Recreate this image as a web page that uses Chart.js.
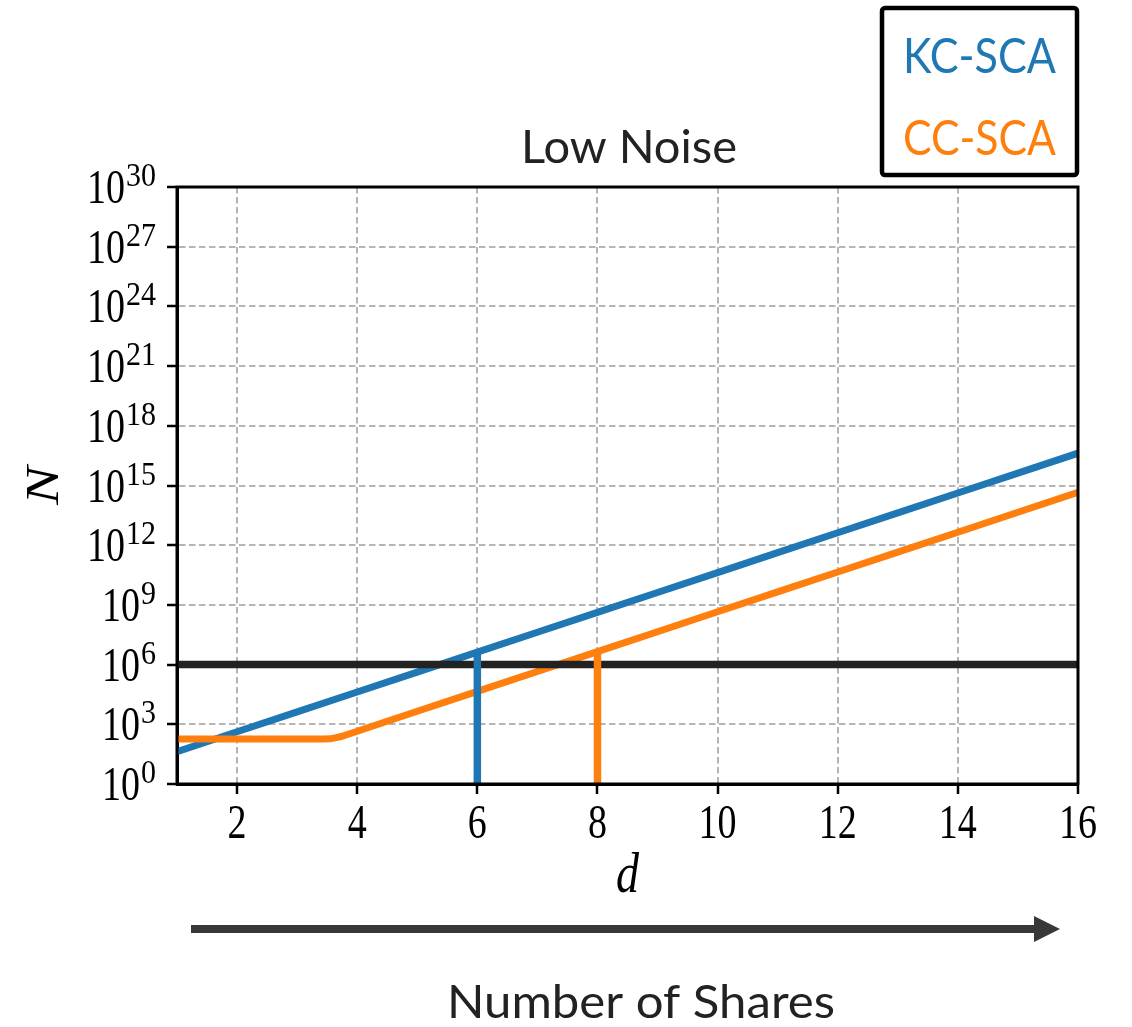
<!DOCTYPE html>
<html>
<head>
<meta charset="utf-8">
<script src="https://cdn.jsdelivr.net/npm/chart.js@4.4.1/dist/chart.umd.min.js"></script>
<style>
  html, body { margin: 0; padding: 0; background: #fff; }
  canvas { display: block; }
</style>
</head>
<body>
<canvas id="c" width="1132" height="1027"></canvas>
<script>
// Number of shares d
const shareCounts = [1, 2, 3, 4, 5, 6, 7, 8, 9, 10, 11, 12, 13, 14, 15, 16];
// Traces N needed by KC-SCA for each share count
const kcScaTraces = [4.2e1, 4.2e2, 4.2e3, 4.2e4, 4.2e5, 4.2e6, 4.2e7, 4.2e8,
                     4.2e9, 4.2e10, 4.2e11, 4.2e12, 4.2e13, 4.2e14, 4.2e15, 4.2e16];
// CC-SCA: flat floor at low d, then the same growth rate
const ccScaShares = [1, 2, 3, 3.43, 3.55, 3.65, 3.75, 3.85, 4, 5, 6, 7, 8,
                     9, 10, 11, 12, 13, 14, 15, 16];
const ccScaTraces = [1.8e2, 1.8e2, 1.8e2, 1.8e2, 1.86e2, 2.14e2, 2.51e2, 3.16e2, 4.5e2, 4.5e3,
                     4.5e4, 4.5e5, 4.5e6, 4.5e7, 4.5e8, 4.5e9, 4.5e10, 4.5e11, 4.5e12,
                     4.5e13, 4.5e14];
// Attacker trace budget
const traceBudget = 1e6;
// Share counts at which each attack stays within the budget
const kcScaRequiredShares = 6;
const ccScaRequiredShares = 8;

const xTickValues = [2, 4, 6, 8, 10, 12, 14, 16];
const yTickValues = [1e0, 1e3, 1e6, 1e9, 1e12, 1e15, 1e18, 1e21, 1e24, 1e27, 1e30];

const chartTitle = 'Low Noise';
const xAxisTitle = 'd';
const yAxisTitle = 'N';
const seriesNames = ['KC-SCA', 'CC-SCA'];
const bottomCaption = 'Number of Shares';

const BLUE = '#1f77b4';
const ORANGE = '#ff7f0e';
const MATH_FONT = '"Liberation Serif", "DejaVu Serif", serif';
const TEXT_FONT = 'Lato, "Open Sans", sans-serif';

const kcAtRequired = kcScaTraces[shareCounts.indexOf(kcScaRequiredShares)];
const ccAtRequired = ccScaTraces[ccScaShares.indexOf(ccScaRequiredShares)];

const toPoints = (xs, ys) => xs.map((x, i) => ({ x, y: ys[i] }));

// Text stretched vertically, used for the math labels
function stretchedText(ctx, text, x, y, font, align, sy, color) {
  ctx.save();
  ctx.translate(x, y);
  ctx.scale(1, sy);
  ctx.font = font;
  ctx.textAlign = align;
  ctx.textBaseline = 'alphabetic';
  ctx.fillStyle = color || '#000';
  ctx.fillText(text, 0, 0);
  ctx.restore();
}

// Text fitted between two x positions with a given cap height
function fittedText(ctx, text, left, right, baseline, capHeight, color) {
  const size = capHeight / 0.7165;
  ctx.save();
  ctx.font = size + 'px ' + TEXT_FONT;
  const w = ctx.measureText(text).width;
  ctx.translate(left, baseline);
  ctx.scale((right - left) / w, 1);
  ctx.textAlign = 'left';
  ctx.textBaseline = 'alphabetic';
  ctx.fillStyle = color;
  ctx.fillText(text, 0, 0);
  ctx.restore();
}

const decorations = {
  id: 'decorations',
  afterDraw(chart) {
    const { ctx, chartArea: a, scales: { x, y } } = chart;

    // Frame around the plot area
    ctx.save();
    ctx.strokeStyle = '#000';
    ctx.lineWidth = 3;
    ctx.strokeRect(a.left, a.top, a.right - a.left, a.bottom - a.top);
    ctx.restore();

    // x tick labels
    x.ticks.forEach(t => {
      stretchedText(ctx, String(t.value), x.getPixelForValue(t.value), 838,
        '38px ' + MATH_FONT, 'center', 1.25);
    });

    // y tick labels as 10^k
    y.ticks.forEach(t => {
      const py = y.getPixelForValue(t.value);
      const exp = String(Math.round(Math.log10(t.value)));
      ctx.font = '30px ' + MATH_FONT;
      const ew = ctx.measureText(exp).width;
      const right = 156;
      stretchedText(ctx, exp, right - ew, py - 1, '30px ' + MATH_FONT, 'left', 1.1);
      stretchedText(ctx, '10', right - ew - 1, py + 16, '38px ' + MATH_FONT, 'right', 1.25);
    });

    // Axis titles
    stretchedText(ctx, xAxisTitle, (a.left + a.right) / 2, 892,
      'italic 46px ' + MATH_FONT, 'center', 1.25);
    ctx.save();
    ctx.translate(58, (a.top + a.bottom) / 2);
    ctx.scale(1, 1.25);
    ctx.rotate(-Math.PI / 2);
    ctx.font = 'italic 46px ' + MATH_FONT;
    ctx.textAlign = 'center';
    ctx.textBaseline = 'alphabetic';
    ctx.fillStyle = '#000';
    ctx.fillText(yAxisTitle, 0, 0);
    ctx.restore();

    // Title
    fittedText(ctx, chartTitle, 521, 737, 163, 33, '#222');

    // Legend box
    ctx.save();
    ctx.strokeStyle = '#000';
    ctx.lineWidth = 4.5;
    ctx.beginPath();
    ctx.roundRect(882, 8, 195, 167, 3);
    ctx.stroke();
    ctx.restore();
    fittedText(ctx, seriesNames[0], 903, 1056, 73, 34, BLUE);
    fittedText(ctx, seriesNames[1], 903, 1056, 155, 34, ORANGE);

    // Arrow for the number of shares
    ctx.save();
    ctx.fillStyle = '#383838';
    ctx.fillRect(191, 925, 846, 8);
    ctx.beginPath();
    ctx.moveTo(1034, 916);
    ctx.lineTo(1060, 929);
    ctx.lineTo(1034, 942);
    ctx.closePath();
    ctx.fill();
    ctx.restore();
    fittedText(ctx, bottomCaption, 447, 835, 1018, 33, '#222');
  }
};

new Chart(document.getElementById('c'), {
  type: 'line',
  data: {
    datasets: [
      { label: seriesNames[0] + ' at d = ' + kcScaRequiredShares,
        data: [{ x: kcScaRequiredShares, y: 1 }, { x: kcScaRequiredShares, y: kcAtRequired }],
        borderColor: BLUE, borderWidth: 7.5, order: 0 },
      { label: seriesNames[1] + ' at d = ' + ccScaRequiredShares,
        data: [{ x: ccScaRequiredShares, y: 1 }, { x: ccScaRequiredShares, y: ccAtRequired }],
        borderColor: ORANGE, borderWidth: 7.5, order: 0 },
      { label: 'Trace budget',
        data: [{ x: 1, y: traceBudget }, { x: 16, y: traceBudget }],
        borderColor: '#222', borderWidth: 7.5, order: 1 },
      { label: seriesNames[1], data: toPoints(ccScaShares, ccScaTraces),
        borderColor: ORANGE, borderWidth: 7, order: 2 },
      { label: seriesNames[0], data: toPoints(shareCounts, kcScaTraces),
        borderColor: BLUE, borderWidth: 7, order: 3 }
    ]
  },
  options: {
    responsive: false,
    animation: false,
    devicePixelRatio: 1,
    layout: { padding: { top: 187, right: 54, left: 0, bottom: 0 } },
    elements: {
      point: { radius: 0, hoverRadius: 0 },
      line: { tension: 0, borderJoinStyle: 'round', fill: false }
    },
    plugins: { legend: { display: false }, tooltip: { enabled: false }, title: { display: false } },
    scales: {
      x: {
        type: 'linear', min: 1, max: 16,
        afterBuildTicks: s => { s.ticks = xTickValues.map(v => ({ value: v })); },
        afterFit: s => { s.height = 1027 - 784; },
        ticks: { display: false },
        grid: { color: '#b5b5b5', lineWidth: 2, drawTicks: true, tickLength: 10,
                tickColor: '#000', tickWidth: 2.5 },
        border: { display: true, color: '#000', width: 3, dash: [6.5, 3.5] }
      },
      y: {
        type: 'logarithmic', min: 1, max: 1e30,
        afterBuildTicks: s => { s.ticks = yTickValues.map(v => ({ value: v })); },
        afterFit: s => { s.width = 177; },
        ticks: { display: false },
        grid: { color: '#b5b5b5', lineWidth: 2, drawTicks: true, tickLength: 10,
                tickColor: '#000', tickWidth: 2.5 },
        border: { display: true, color: '#000', width: 3, dash: [6.5, 3.5] }
      }
    }
  },
  plugins: [decorations]
});
</script>
</body>
</html>
